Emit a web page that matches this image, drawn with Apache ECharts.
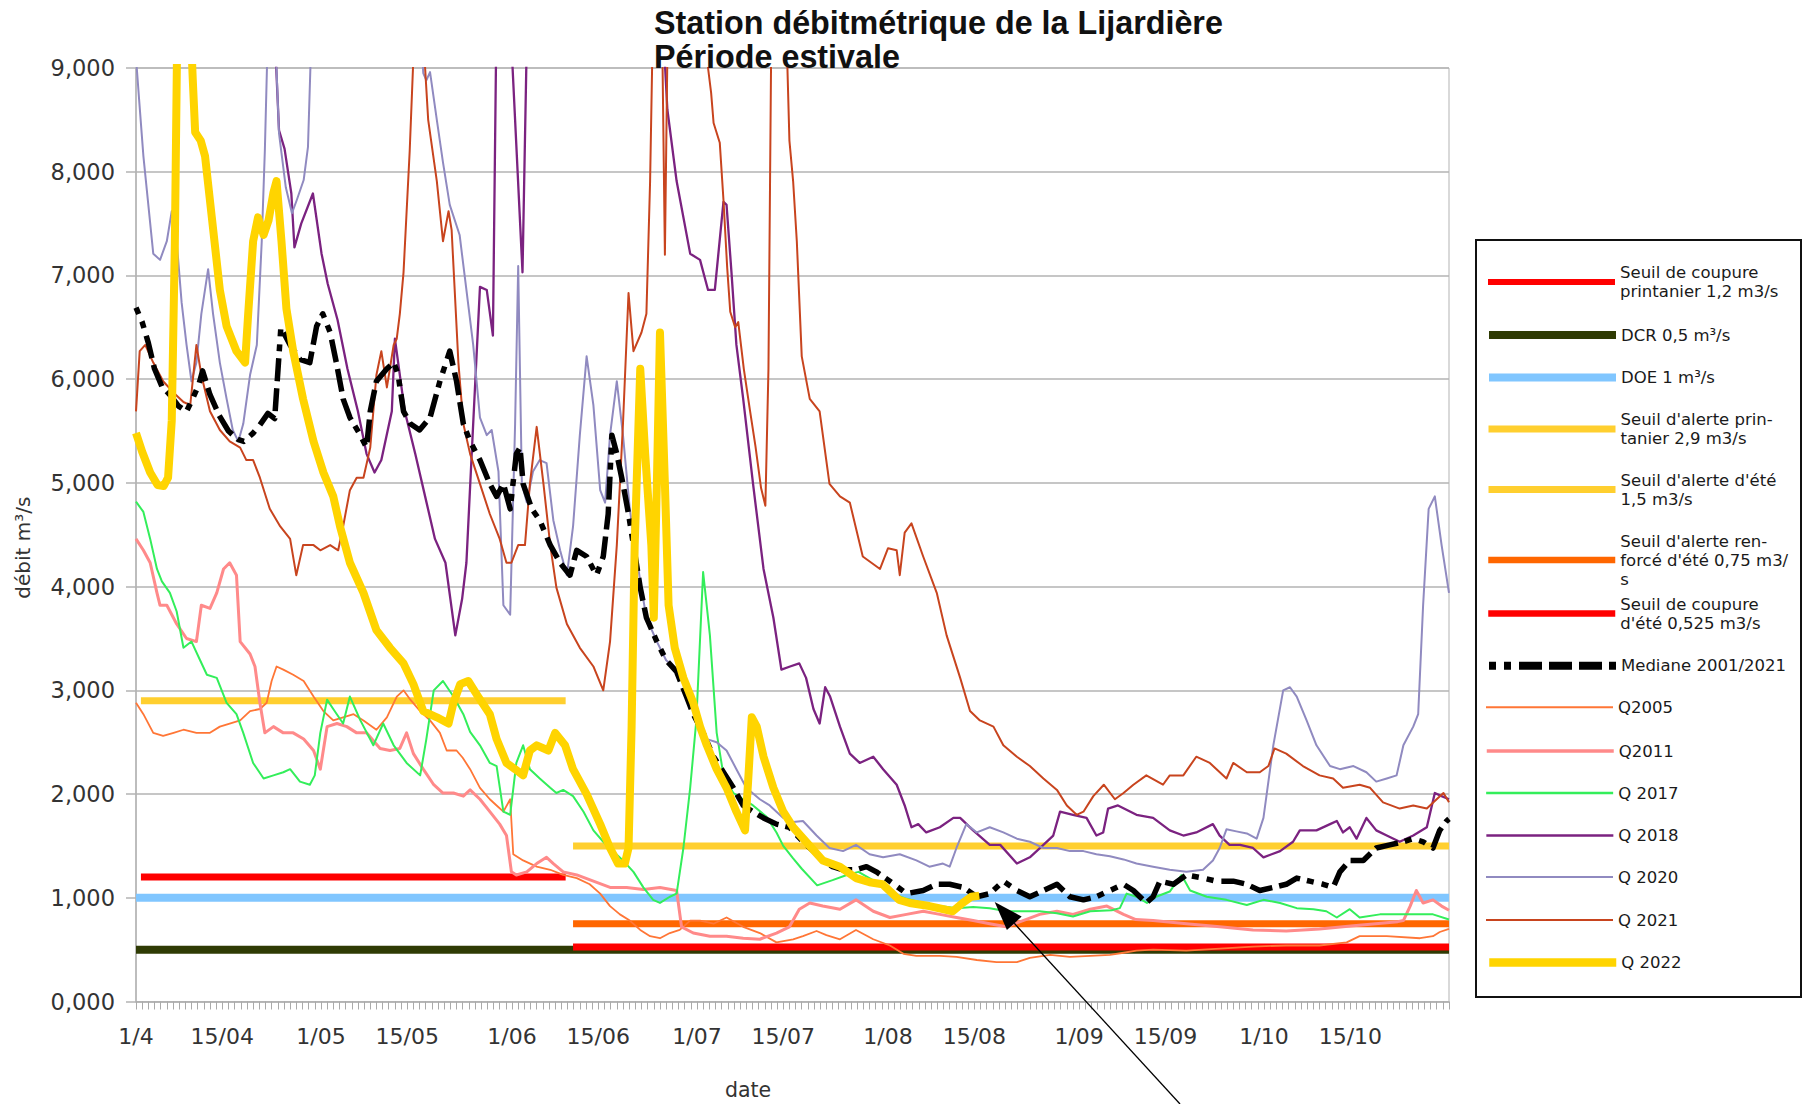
<!DOCTYPE html>
<html><head><meta charset="utf-8">
<script src="https://cdn.jsdelivr.net/npm/echarts@6/dist/echarts.min.js"></script>
<style>html,body{margin:0;padding:0;background:#fff}#c{width:1809px;height:1104px}</style>
</head><body><div id="c"></div>
<script>
// ---------- axis definitions ----------
const lastDay = 213;                       // 1/4 .. 31/10
const tickDays   = [0,14,30,44,61,75,91,105,122,136,153,167,183,197];
const tickLabels = ['1/4','15/04','1/05','15/05','1/06','15/06','1/07','15/07','1/08','15/08','1/09','15/09','1/10','15/10'];
const yMax = 9, yStep = 1;

// ---------- thresholds [day, m3/s] ----------
const seuilCoupurePrint = [[0.8,1.2],[69.7,1.2]];
const dcr               = [[0,0.5],[213,0.5]];
const doe               = [[0,1.0],[213,1.0]];
const seuilAlertePrint  = [[0.8,2.9],[69.7,2.9]];
const seuilAlerteEte    = [[70.9,1.5],[213,1.5]];
const seuilRenforceEte  = [[70.9,0.75],[213,0.75]];
const seuilCoupureEte   = [[70.9,0.525],[213,0.525]];

// ---------- flows [day, m3/s] (values above 9 run off the chart) ----------
const mediane = [[0,6.69],[1,6.55],[2,6.35],[3,6.1],[4.2,5.93],[5.5,5.85],[6.9,5.74],[8.2,5.69],[9.1,5.8],[10.2,5.95],[10.8,6.08],[12,5.85],[13.5,5.65],[15,5.5],[16.5,5.42],[17.5,5.4],[19,5.48],[20,5.55],[21.4,5.67],[22.5,5.62],[23.5,6.5],[25,6.33],[26.6,6.19],[28.2,6.16],[29.3,6.51],[30.3,6.63],[31.5,6.45],[32.5,6.16],[33.6,5.81],[34.7,5.63],[36.4,5.46],[37.4,5.34],[38,5.69],[39,5.98],[40.7,6.1],[41.8,6.16],[42.5,6.05],[43.4,5.69],[44.5,5.57],[46,5.51],[47.7,5.63],[49.3,5.98],[50.9,6.27],[52,5.98],[53.1,5.57],[54.2,5.4],[55.8,5.22],[57.4,4.99],[58.5,4.87],[59.6,4.99],[60.7,4.75],[61.7,5.28],[62.3,5.34],[62.8,4.99],[64.2,4.75],[65.5,4.64],[67.2,4.4],[68.8,4.23],[70.4,4.11],[71.5,4.35],[73.1,4.29],[74.7,4.11],[75.8,4.29],[76.6,4.7],[77.2,5.46],[78,5.28],[79,4.99],[79.9,4.7],[80.7,4.4],[81.8,3.99],[82.8,3.7],[84.5,3.47],[86,3.29],[87.7,3.18],[89.3,2.94],[90.4,2.77],[92,2.59],[93.7,2.36],[95.3,2.21],[96.9,2.06],[98.5,1.89],[100.1,1.83],[101.8,1.77],[103.9,1.71],[106,1.68],[108.2,1.54],[109.9,1.45],[111.4,1.36],[113,1.3],[114.7,1.27],[116.8,1.27],[118.5,1.3],[120.1,1.25],[122.3,1.16],[125,1.04],[127.7,1.07],[129.9,1.13],[132,1.13],[134.2,1.1],[136.4,1.01],[138.5,1.04],[140.7,1.16],[142.9,1.07],[145,1.01],[147.2,1.07],[149.4,1.13],[151.5,1.01],[153.7,0.98],[155.8,1.01],[158,1.07],[160.2,1.13],[161.8,1.07],[163.9,0.95],[165,1.01],[166.1,1.16],[168.3,1.13],[170.4,1.22],[173.1,1.19],[175.3,1.16],[178,1.16],[180.2,1.13],[182.3,1.07],[184.5,1.1],[186.6,1.13],[188.3,1.19],[190.4,1.16],[192.6,1.13],[194.2,1.1],[195.3,1.25],[196.9,1.36],[199.1,1.36],[201.2,1.48],[203.4,1.51],[205.6,1.54],[207.2,1.57],[208.8,1.54],[210.4,1.48],[211.5,1.65],[212.6,1.74],[213,1.76]];

const q2005 = [[0,2.88],[1.2,2.77],[2.8,2.59],[4.4,2.56],[6.1,2.59],[7.7,2.62],[9.8,2.59],[12,2.59],[13.6,2.65],[15.2,2.68],[16.9,2.71],[18.5,2.8],[20.1,2.82],[21.2,2.88],[22,3.09],[22.8,3.23],[23.9,3.2],[25.5,3.15],[27.2,3.09],[28.8,2.94],[30.4,2.8],[32,2.71],[33.6,2.74],[35.3,2.77],[36.9,2.71],[39,2.62],[40.7,2.74],[42.3,2.94],[43.4,3.0],[44.5,2.91],[46.1,2.8],[47.7,2.71],[49.3,2.59],[50.4,2.42],[52,2.42],[53,2.35],[54.2,2.24],[55.8,2.06],[57.4,1.95],[58.5,1.89],[59.6,1.83],[60.7,1.95],[61.2,1.42],[62.8,1.36],[65,1.3],[67.2,1.27],[69.3,1.22],[71.5,1.19],[73.6,1.13],[75.3,1.04],[76.9,0.92],[78.5,0.84],[80.1,0.78],[81.8,0.69],[83.4,0.63],[85,0.61],[86.6,0.66],[88.2,0.69],[89.9,0.78],[91.5,0.78],[93.7,0.75],[95.8,0.81],[98.5,0.72],[101.2,0.66],[103.9,0.57],[106.6,0.6],[108.2,0.63],[110.4,0.68],[112,0.64],[114.2,0.6],[116.8,0.69],[119.6,0.6],[122.3,0.54],[124.5,0.46],[126.6,0.44],[130.4,0.44],[133.1,0.43],[136.4,0.4],[139.6,0.38],[142.9,0.38],[145,0.42],[148.3,0.45],[151.5,0.43],[154.8,0.44],[158,0.45],[160.2,0.47],[162.3,0.49],[165,0.5],[170.4,0.49],[175.8,0.51],[181.2,0.53],[186.6,0.54],[192,0.54],[196.4,0.57],[198.5,0.63],[202.9,0.63],[208.3,0.61],[210.4,0.63],[211.5,0.67],[213,0.7]];

const q2011 = [[0,4.46],[1.2,4.35],[2.3,4.23],[3.4,3.94],[3.9,3.82],[5,3.82],[6.6,3.64],[8.2,3.5],[9.8,3.47],[10.6,3.82],[12,3.79],[13.1,3.94],[14.2,4.17],[15.2,4.23],[16.3,4.11],[16.9,3.47],[18.5,3.35],[19.3,3.23],[20.1,2.88],[20.9,2.59],[22.3,2.65],[23.9,2.59],[25.5,2.59],[27.2,2.53],[28.8,2.42],[29.9,2.24],[31,2.65],[32.6,2.68],[34.2,2.65],[35.8,2.59],[37.4,2.59],[39.6,2.44],[41.2,2.42],[42.8,2.44],[43.9,2.59],[45,2.39],[46.6,2.24],[48.3,2.09],[49.8,2.01],[51.5,2.01],[53.1,1.98],[54.2,2.04],[55.8,1.95],[57.4,1.83],[59,1.71],[60.1,1.6],[60.9,1.25],[61.7,1.22],[63.4,1.25],[65,1.33],[66.6,1.39],[67.7,1.33],[69.3,1.25],[71.5,1.22],[74.2,1.16],[76.9,1.1],[79.6,1.1],[82.3,1.08],[85,1.1],[87.7,1.07],[88.5,0.72],[90.4,0.66],[93.1,0.63],[95.8,0.63],[98.5,0.61],[101.2,0.6],[103.9,0.66],[106,0.72],[107.6,0.89],[109.3,0.95],[111.4,0.92],[114.2,0.89],[116.8,0.98],[119.6,0.87],[122.3,0.81],[125,0.84],[127.7,0.87],[130.4,0.84],[133.1,0.81],[135.8,0.78],[138.5,0.75],[141.2,0.72],[143.9,0.78],[146.6,0.84],[149.4,0.87],[152,0.84],[154.8,0.89],[157.5,0.92],[160.2,0.84],[162.2,0.79],[165,0.78],[170.4,0.75],[175.8,0.72],[181.2,0.69],[186.6,0.68],[192,0.7],[197.5,0.73],[204.7,0.77],[205.6,0.78],[206.7,0.92],[207.7,1.07],[208.8,0.95],[210.4,0.98],[211.8,0.92],[213,0.88]];

const q2017 = [[0,4.82],[1.2,4.72],[2.3,4.46],[3.4,4.17],[4.2,4.05],[5.5,3.94],[6.6,3.76],[7.7,3.41],[9,3.47],[10.4,3.29],[11.5,3.15],[13.1,3.12],[14.7,2.88],[16.3,2.77],[17.4,2.59],[19,2.3],[20.7,2.15],[22.3,2.18],[23.9,2.21],[25,2.24],[26.6,2.12],[28.2,2.09],[29,2.18],[29.9,2.59],[31,2.91],[32,2.82],[33.6,2.68],[34.7,2.94],[36.4,2.71],[38.5,2.47],[40.1,2.68],[41.8,2.47],[43.9,2.3],[46.1,2.18],[47.1,2.53],[48.3,3.0],[49.8,3.09],[51.5,2.94],[53.1,2.77],[54.2,2.6],[55.8,2.47],[57.4,2.3],[58.5,2.27],[59.6,1.83],[60.7,1.8],[61.7,2.3],[62.8,2.47],[63.9,2.24],[65.5,2.15],[67.2,2.06],[68.2,2.01],[69.3,2.04],[70.9,1.98],[72.6,1.83],[74.2,1.65],[75.8,1.54],[77.4,1.45],[79,1.36],[80.7,1.25],[82.3,1.1],[83.9,0.98],[85,0.95],[86.6,1.01],[87.7,1.04],[88.8,1.48],[89.9,2.06],[90.9,2.71],[92,4.14],[93.1,3.53],[94.2,2.59],[95.3,2.18],[96.9,2.01],[98.5,1.95],[100.1,1.89],[102.3,1.78],[103.9,1.63],[105,1.5],[106.6,1.38],[108,1.28],[110.5,1.12],[113,1.17],[115.3,1.22],[117.2,1.25],[120.1,1.15],[122.3,1.05],[125,0.99],[127.7,0.95],[130.4,0.92],[133.1,0.9],[135.8,0.91],[138.5,0.9],[141.2,0.87],[143.9,0.87],[146.6,0.87],[149.4,0.85],[152,0.82],[154.8,0.87],[158.3,0.88],[159.6,0.9],[160.7,1.04],[162.3,1.01],[164,0.95],[165.5,1.01],[167.7,1.06],[169.6,1.22],[171,1.07],[173.7,1.01],[176.9,0.98],[180.2,0.93],[182.9,0.98],[185.6,0.95],[188.3,0.9],[191,0.89],[193.1,0.87],[194.8,0.81],[196.9,0.89],[198.5,0.81],[201.8,0.84],[205.6,0.84],[208.3,0.84],[210.4,0.84],[213,0.79]];

const q2018 = [[22.3,9.6],[23.2,8.4],[24.1,8.22],[25.2,7.79],[25.7,7.27],[26.8,7.5],[28.7,7.79],[30.1,7.21],[31.1,6.92],[32.7,6.57],[34.3,6.1],[36,5.69],[37.4,5.28],[38.7,5.1],[39.8,5.22],[41.5,5.69],[42,6.39],[43.6,5.69],[45.3,5.28],[46.9,4.87],[48.5,4.46],[50.2,4.23],[51.8,3.53],[52.9,3.88],[53.6,4.23],[54.7,5.57],[55.8,6.89],[56.9,6.86],[57.9,6.42],[58.5,9.6],[60.6,9.6],[62.7,7.03],[63.5,9.6],[85.3,9.6],[86.2,8.6],[87.7,7.91],[89.9,7.21],[91.5,7.15],[92.8,6.86],[93.9,6.86],[95.3,7.71],[95.8,7.68],[96.6,7.03],[97.4,6.33],[98.5,5.81],[100.1,4.99],[101.8,4.17],[103.4,3.7],[104.7,3.2],[106.1,3.23],[107.6,3.26],[108.7,3.12],[109.9,2.82],[110.9,2.68],[111.8,3.03],[112.6,2.94],[114.2,2.65],[115.8,2.39],[117.4,2.3],[119.6,2.36],[121.2,2.24],[123.4,2.09],[124.7,1.89],[125.8,1.68],[126.9,1.71],[128.2,1.63],[130.4,1.68],[132.6,1.77],[133.7,1.77],[135.8,1.65],[138.5,1.51],[140.2,1.51],[142.9,1.33],[145,1.39],[147.2,1.51],[148.8,1.6],[149.9,1.83],[152,1.8],[154.2,1.77],[155.8,1.6],[156.9,1.63],[157.7,1.86],[159.3,1.89],[162.3,1.8],[165,1.77],[167.7,1.65],[169.9,1.6],[172,1.63],[174.7,1.71],[175.8,1.6],[177.4,1.51],[179.1,1.51],[181.2,1.48],[182.9,1.39],[185.6,1.45],[187.7,1.54],[188.8,1.65],[191.5,1.65],[193.7,1.71],[194.8,1.74],[195.8,1.63],[196.9,1.68],[198,1.57],[199.6,1.77],[201.2,1.65],[202.9,1.6],[205,1.54],[207.2,1.6],[209.4,1.68],[210.7,2.01],[211.8,1.98],[213,1.95]];

const q2020 = [[0,9.1],[0.5,8.7],[1.2,8.15],[2.8,7.21],[3.9,7.15],[5,7.33],[5.8,7.62],[6.6,7.33],[7.4,6.74],[8.2,6.33],[9,5.98],[9.8,6.16],[10.6,6.63],[11.7,7.06],[12.5,6.63],[13.6,6.16],[14.7,5.81],[15.7,5.51],[16.6,5.4],[17.4,5.57],[18.5,6.04],[19.6,6.33],[20.4,7.33],[20.9,8.2],[21.5,9.6],[22.4,9.6],[23.2,8.37],[24.3,7.85],[25.3,7.6],[26.1,7.73],[27.2,7.92],[27.9,8.24],[28.6,9.6],[46,9.6],[46.6,8.95],[47.1,8.88],[47.7,8.96],[48.8,8.5],[49.8,8.09],[50.9,7.68],[52.5,7.39],[53.6,6.86],[54.7,6.33],[55.8,5.63],[56.9,5.46],[57.7,5.51],[58.8,5.11],[59.6,3.82],[60.7,3.73],[61.5,5.57],[62,7.09],[62.6,4.99],[63.4,4.81],[64.4,5.11],[65.5,5.22],[66.6,5.19],[67.7,4.64],[68.8,4.35],[69.9,4.11],[70.9,4.58],[72,5.46],[73.1,6.22],[74.2,5.75],[75.3,4.93],[76.1,4.81],[76.9,5.46],[78,5.98],[79,5.46],[80.1,4.75],[81.8,4.05],[82.8,3.7],[84.5,3.47],[86,3.29],[88.2,3.18],[90.4,2.88],[92.6,2.53],[94.2,2.5],[95.8,2.42],[97.4,2.24],[99,2.06],[101.2,1.95],[102.8,1.89],[105,1.77],[106.6,1.73],[108.2,1.74],[110.4,1.6],[112.5,1.48],[114.7,1.45],[116.8,1.51],[119,1.42],[121.2,1.39],[123.9,1.42],[126.6,1.36],[128.7,1.3],[130.9,1.33],[132,1.3],[133.1,1.48],[134.7,1.71],[136.4,1.63],[138.5,1.68],[140.7,1.63],[142.9,1.57],[145,1.54],[147.2,1.48],[149.4,1.48],[151.5,1.45],[153.7,1.45],[155.8,1.42],[158,1.4],[160.2,1.37],[162.3,1.33],[165,1.3],[167.7,1.27],[170.4,1.25],[173.1,1.27],[174.7,1.36],[175.8,1.48],[176.9,1.66],[178.5,1.64],[180.2,1.62],[181.8,1.57],[182.9,1.77],[184.5,2.47],[186.1,3.0],[187.2,3.03],[188.3,2.94],[189.9,2.71],[191.5,2.47],[193.7,2.27],[195.3,2.24],[197.5,2.27],[199.6,2.21],[201.2,2.12],[202.9,2.15],[204.5,2.18],[205.6,2.47],[207.2,2.65],[208,2.77],[208.8,3.82],[209.7,4.75],[210.7,4.87],[211.8,4.4],[213,3.94]];

const q2021 = [[0,5.69],[0.6,6.27],[1.5,6.33],[2.8,6.16],[4.4,5.98],[6.1,5.87],[7.7,5.78],[8.8,5.75],[9.8,6.33],[10.6,6.04],[12,5.69],[13.6,5.51],[15.2,5.4],[16.9,5.34],[17.9,5.22],[19,5.22],[20.1,5.05],[21.7,4.75],[23.4,4.58],[25,4.46],[26,4.11],[27.1,4.4],[28.8,4.4],[29.9,4.35],[31.5,4.4],[32.8,4.35],[33.6,4.58],[34.7,4.93],[35.8,5.05],[36.9,5.05],[38,5.34],[39,6.04],[39.8,6.27],[40.7,5.92],[41.8,6.33],[42.3,6.39],[42.8,6.63],[43.4,7.03],[44.4,8.2],[45,9.1],[45.8,9.8],[46.8,9.1],[47.4,8.5],[48.8,7.91],[49.8,7.33],[50.7,7.62],[51.2,7.44],[52.3,6.16],[53.1,5.57],[54.2,5.28],[55.8,4.99],[57.4,4.7],[59,4.46],[60.1,4.23],[60.9,4.23],[62,4.4],[63.1,4.4],[63.9,4.99],[65,5.54],[66.1,4.99],[67.2,4.4],[68.2,3.99],[69.9,3.64],[72,3.41],[74.2,3.23],[75.8,3.0],[76.9,3.47],[78,4.4],[79,5.57],[79.9,6.83],[80.7,6.27],[82,6.45],[82.8,6.63],[83.4,7.91],[83.9,9.6],[85.3,9.6],[85.8,7.2],[86.3,9.6],[92.4,9.6],[92.8,9.0],[93.3,8.76],[93.7,8.47],[94.7,8.28],[95.3,7.73],[95.9,7.08],[96.4,6.65],[97.2,6.5],[97.7,6.55],[98.6,6.1],[99.6,5.7],[100.5,5.35],[101.4,4.95],[102.1,4.78],[102.6,6.1],[103.1,9.6],[105.4,9.6],[106,8.3],[106.6,7.91],[107.2,7.33],[108,6.22],[109.3,5.81],[110.9,5.69],[112.5,4.99],[114.2,4.87],[115.8,4.81],[117.9,4.29],[120.7,4.17],[122,4.37],[123.4,4.35],[123.9,4.11],[124.7,4.52],[125.8,4.61],[127.7,4.29],[129.9,3.94],[131.5,3.53],[133.7,3.12],[135.3,2.8],[136.9,2.71],[139.1,2.65],[140.7,2.47],[142.9,2.36],[145,2.27],[147.2,2.15],[149.4,2.04],[151,1.89],[152.6,1.8],[153.7,1.83],[155.3,1.98],[157,2.09],[158.8,1.95],[160.2,2.01],[161.8,2.09],[163.9,2.18],[166.6,2.09],[167.7,2.18],[169.9,2.18],[172,2.36],[174.2,2.3],[176.9,2.15],[178,2.3],[180.2,2.21],[182.3,2.21],[183.7,2.27],[184.7,2.44],[186.6,2.39],[189.3,2.27],[192,2.18],[194.2,2.15],[195.8,2.06],[198.5,2.09],[200.2,2.06],[202.3,1.92],[205,1.86],[207.2,1.89],[209.4,1.86],[211,1.95],[212.1,2.01],[213,1.92]];

const q2022 = [[0,5.48],[1,5.3],[2.3,5.1],[3.5,4.98],[4.5,4.97],[5.2,5.05],[5.8,5.6],[6.3,7.3],[6.7,9.4],[7.8,10.5],[8.8,9.5],[9.2,8.9],[9.6,8.38],[10.5,8.3],[11.2,8.15],[12.3,7.56],[13.6,6.86],[14.7,6.51],[16.3,6.27],[17.7,6.16],[18.2,6.63],[19,7.33],[19.8,7.56],[20.7,7.39],[21.5,7.53],[22.3,7.8],[22.8,7.91],[23.6,7.33],[24.4,6.68],[25.5,6.27],[27.1,5.81],[28.8,5.4],[30.4,5.1],[32,4.87],[33.1,4.58],[34.7,4.23],[36.9,3.94],[39,3.58],[41.2,3.41],[43.4,3.26],[45,3.06],[46.6,2.8],[48.8,2.74],[50.7,2.68],[51.5,2.88],[52.6,3.06],[53.9,3.09],[55.5,2.94],[57.4,2.77],[58.5,2.53],[60.1,2.3],[61.5,2.24],[62.8,2.18],[63.9,2.42],[65,2.47],[66.9,2.42],[68,2.59],[69.6,2.47],[70.9,2.24],[73.1,2.0],[75.3,1.71],[76.9,1.48],[78.2,1.33],[79.3,1.33],[79.9,1.48],[80.4,2.65],[80.9,4.4],[81.8,6.1],[82.6,5.28],[83.6,4.4],[84,3.7],[84.5,5.0],[85,6.45],[85.8,4.99],[86.4,3.82],[87.4,3.41],[88.8,3.12],[90.4,2.88],[91.5,2.65],[92.6,2.47],[94.2,2.24],[95.8,2.06],[97.4,1.83],[98.8,1.65],[99.3,2.12],[99.9,2.74],[100.7,2.65],[101.8,2.36],[103.4,2.06],[105,1.83],[106.6,1.68],[108.7,1.54],[111.4,1.36],[114.2,1.3],[116.8,1.19],[119,1.15],[121.1,1.13],[123.8,0.98],[125.5,0.95],[128.7,0.92],[132.5,0.87],[134.1,0.95],[135.5,1.01],[136.8,1.02]];

// ---------- names / legend texts ----------
const N = {
  scp: 'Seuil de coupure printanier 1,2 m3/s', dcr: 'DCR 0,5 m³/s', doe: 'DOE 1 m³/s',
  sap: "Seuil d'alerte printanier 2,9 m3/s", sae: "Seuil d'alerte d'été 1,5 m3/s",
  sre: "Seuil d'alerte renforcé d'été 0,75 m3/s", sce: "Seuil de coupure d'été 0,525 m3/s",
  med: 'Mediane 2001/2021', q05: 'Q2005', q11: 'Q2011', q17: 'Q 2017', q18: 'Q 2018',
  q20: 'Q 2020', q21: 'Q 2021', q22: 'Q 2022'
};
const legendOrder  = ['scp','dcr','doe','sap','sae','sre','sce','med','q05','q11','q17','q18','q20','q21','q22'];
const legendTexts  = ['Seuil de coupure\nprintanier 1,2 m3/s','DCR 0,5 m³/s','DOE 1 m³/s',"Seuil d'alerte prin-\ntanier 2,9 m3/s","Seuil d'alerte d'été\n1,5 m3/s","Seuil d'alerte ren-\nforcé d'été 0,75 m3/\ns","Seuil de coupure\nd'été 0,525 m3/s",'Mediane 2001/2021','Q2005','Q2011','Q 2017','Q 2018','Q 2020','Q 2021','Q 2022'];

// ---------- styles ----------
const ST = {
  scp:{c:'#ff0000',w:7}, dcr:{c:'#2f3b04',w:8}, doe:{c:'#80c6ff',w:8}, sap:{c:'#ffcf2f',w:7},
  sae:{c:'#ffcf2f',w:7}, sre:{c:'#ff6600',w:7}, sce:{c:'#ff0000',w:7},
  med:{c:'#000000',w:5.5,dash:[7,8,7,8,23,7,23,7,23,7]},
  q05:{c:'#ff7636',w:1.8}, q11:{c:'#ff8a8a',w:3}, q17:{c:'#33ee5a',w:2}, q18:{c:'#7b2280',w:2.3},
  q20:{c:'#908ac0',w:2}, q21:{c:'#c8441e',w:2}, q22:{c:'#ffd400',w:8}
};
const legendIconW = {scp:6,dcr:8,doe:8,sap:7,sae:7,sre:6.5,sce:6.5,med:8,q05:2,q11:3.5,q17:2.3,q18:2.7,q20:2,q21:2,q22:8.5};
const legendIconY = [273.5,335,377.5,420.5,481,542,605,665.7,707.3,751,793,835.5,877,920,962.5];

const DATA = {scp:seuilCoupurePrint,dcr:dcr,doe:doe,sap:seuilAlertePrint,sae:seuilAlerteEte,sre:seuilRenforceEte,sce:seuilCoupureEte,
  med:mediane,q05:q2005,q11:q2011,q17:q2017,q18:q2018,q20:q2020,q21:q2021,q22:q2022};
const drawOrder = ['dcr','doe','scp','sap','sae','sre','sce','q05','q11','q17','q18','q20','q21','med','q22'];

const series = drawOrder.map(k => ({
  name: N[k], type: 'line', data: DATA[k], symbol: 'none', showSymbol: false, silent: true,
  clip: true, animation: false,
  lineStyle: { color: ST[k].c, width: ST[k].w, type: ST[k].dash || 'solid', cap: 'butt', join: 'round' },
  itemStyle: { color: ST[k].c }
}));

const legends = legendOrder.map((k, i) => ({
  orient: 'vertical', left: 1485, top: legendIconY[i] - 9.5, padding: 0,
  itemWidth: 127, itemHeight: 10, itemGap: 0, selectedMode: false,
  data: [N[k]], formatter: () => legendTexts[i],
  textStyle: { fontFamily: 'DejaVu Sans', fontSize: 16.5, lineHeight: 19, height: 19, color: '#1a1a1a' },
  itemStyle: { opacity: 0 }, lineStyle: { width: legendIconW[k] }
}));

const fmtY = v => v.toFixed(3).replace('.', ',');
const fmtX = v => { const i = tickDays.indexOf(Math.round(v)); return (i >= 0 && Math.abs(v - Math.round(v)) < 1e-6) ? tickLabels[i] : ''; };

const chart = echarts.init(document.getElementById('c'), null, { renderer: 'svg' });
chart.setOption({
  animation: false,
  backgroundColor: '#ffffff',
  title: {
    text: 'Station débitmétrique de la Lijardière\nPériode estivale',
    left: 654, top: 6, padding: 0,
    textStyle: { fontFamily: 'Liberation Sans', fontWeight: 'bold', fontSize: 32.3, lineHeight: 34, color: '#111' }
  },
  grid: { left: 136, top: 68, width: 1313, height: 933.5, show: true, borderColor: '#b3b3b3', borderWidth: 1,
          containLabel: false, outerBoundsMode: 'none' },
  xAxis: {
    type: 'value', min: 0, max: lastDay, interval: 1,
    name: 'date', nameLocation: 'middle', nameGap: 78, nameMoveOverlap: false,
    nameTextStyle: { fontFamily: 'DejaVu Sans', fontSize: 20.5, lineHeight: 21, color: '#333', padding: [0, 89, 0, 0] },
    axisLine: { show: true, onZero: false, lineStyle: { color: '#b3b3b3', width: 1.5 } },
    axisTick: { show: true, length: 8, lineStyle: { color: '#aaaaaa', width: 1 } },
    axisLabel: { show: true, formatter: fmtX, margin: 24, fontFamily: 'DejaVu Sans', fontSize: 22, color: '#333',
                 showMinLabel: true, showMaxLabel: true, hideOverlap: false },
    splitLine: { show: false }
  },
  yAxis: {
    type: 'value', min: 0, max: yMax, interval: yStep,
    name: 'débit m³/s', nameLocation: 'middle', nameGap: 103, nameMoveOverlap: false,
    nameTextStyle: { fontFamily: 'DejaVu Sans', fontSize: 20, color: '#333', padding: [0, 26, 0, 0] },
    axisLine: { show: true, lineStyle: { color: '#b3b3b3', width: 1.5 } },
    axisTick: { show: true, length: 10, lineStyle: { color: '#b3b3b3', width: 1.5 } },
    axisLabel: { formatter: fmtY, margin: 21, fontFamily: 'DejaVu Sans', fontSize: 22.5, color: '#333' },
    splitLine: { show: true, lineStyle: { color: '#b3b3b3', width: 1.5 } }
  },
  legend: legends,
  series: series,
  graphic: [
    { type: 'rect', id: 'legendBox', silent: true, shape: { x: 1476, y: 240, width: 325, height: 757 },
      style: { fill: 'none', stroke: '#111', lineWidth: 2 } }
  ]
});

// annotation arrow pointing at mid-August low flows
const tip = chart.convertToPixel({ gridIndex: 0 }, [139.3, 0.96]);
const tail = [1180, 1104];
const dx = tail[0] - tip[0], dy = tail[1] - tip[1], L = Math.hypot(dx, dy);
const ux = dx / L, uy = dy / L, hl = 29, hw = 10;
const bx = tip[0] + ux * hl, by = tip[1] + uy * hl;
chart.setOption({
  graphic: [
    { type: 'line', id: 'arrowLine', silent: true, z: 100, shape: { x1: bx, y1: by, x2: tail[0], y2: tail[1] },
      style: { stroke: '#000', lineWidth: 1.3 } },
    { type: 'polygon', id: 'arrowHead', silent: true, z: 100,
      shape: { points: [[tip[0], tip[1]], [bx - uy * hw, by + ux * hw], [bx + uy * hw, by - ux * hw]] },
      style: { fill: '#000' } }
  ]
});
</script></body></html>
